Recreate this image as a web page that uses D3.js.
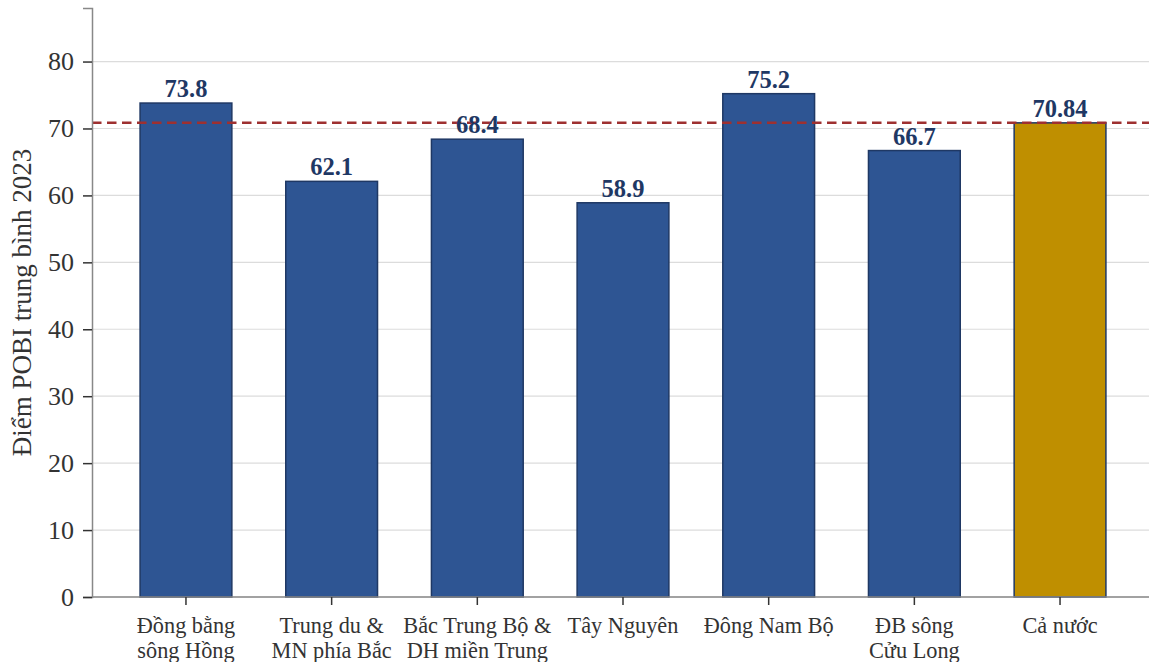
<!DOCTYPE html>
<html>
<head>
<meta charset="utf-8">
<script src="https://cdn.jsdelivr.net/npm/d3@7"></script>
<style>
  html, body { margin: 0; padding: 0; background: #fff; }
  svg { display: block; font-family: "Liberation Serif", "Times New Roman", serif; }
</style>
</head>
<body>
<svg id="chart" width="1149" height="662"></svg>
<script>
// Regions and their mean POBI score (2023); the last entry is the national average
const regions = [
  ["Đồng bằng", "sông Hồng"],
  ["Trung du &", "MN phía Bắc"],
  ["Bắc Trung Bộ &", "DH miền Trung"],
  ["Tây Nguyên"],
  ["Đông Nam Bộ"],
  ["ĐB sông", "Cửu Long"],
  ["Cả nước"]
];
const scores = [73.8, 62.1, 68.4, 58.9, 75.2, 66.7, 70.84];
const valueLabels = ["73.8", "62.1", "68.4", "58.9", "75.2", "66.7", "70.84"];
const nationalAverage = 70.84;
const yTicks = [0, 10, 20, 30, 40, 50, 60, 70, 80];
const yTitle = "Điểm POBI trung bình 2023";

const svg = d3.select("#chart");
const plotLeft = 92, plotRight = 1154, plotTop = 8, plotBottom = 597;

const x = d3.scaleBand()
  .domain(d3.range(scores.length))
  .range([plotLeft, plotRight])
  .paddingInner(0.37)
  .paddingOuter(0.33);

const y = d3.scaleLinear().domain([0, 88]).range([plotBottom, plotTop]);

// horizontal grid
svg.append("g")
  .selectAll("line")
  .data(yTicks)
  .join("line")
  .attr("x1", plotLeft).attr("x2", 1149)
  .attr("y1", d => y(d)).attr("y2", d => y(d))
  .attr("stroke", "#dcdcdc").attr("stroke-width", 1.2);

// bars
svg.append("g")
  .selectAll("rect")
  .data(scores)
  .join("rect")
  .attr("x", (d, i) => x(i))
  .attr("width", x.bandwidth())
  .attr("y", d => y(d))
  .attr("height", d => y(0) - y(d))
  .attr("fill", (d, i) => i === scores.length - 1 ? "#bf8f00" : "#2e5593")
  .attr("stroke", "#1f3864")
  .attr("stroke-width", 1.5);

// national average reference line
svg.append("line")
  .attr("x1", plotLeft).attr("x2", 1149)
  .attr("y1", y(nationalAverage)).attr("y2", y(nationalAverage))
  .attr("stroke", "#9e3030")
  .attr("stroke-width", 2.5)
  .attr("stroke-dasharray", "9.5,5.5");

// value labels
svg.append("g")
  .selectAll("text")
  .data(scores)
  .join("text")
  .attr("x", (d, i) => x(i) + x.bandwidth() / 2)
  .attr("y", d => y(d) - 6)
  .attr("text-anchor", "middle")
  .attr("font-size", 24.5)
  .attr("font-weight", "bold")
  .attr("fill", "#1f3864")
  .text((d, i) => valueLabels[i]);

// y axis
const yAxis = svg.append("g")
  .attr("transform", `translate(${plotLeft},0)`)
  .call(d3.axisLeft(y).tickValues(yTicks).tickSize(9).tickPadding(9));
yAxis.select(".domain").attr("stroke", "#888").attr("stroke-width", 1.5);
yAxis.selectAll(".tick line").attr("stroke", "#333").attr("stroke-width", 1.5);
yAxis.selectAll(".tick text")
  .attr("font-family", "Liberation Serif, serif")
  .attr("font-size", 26).attr("fill", "#333");

// x axis
const xAxis = svg.append("g")
  .attr("transform", `translate(0,${plotBottom})`)
  .call(d3.axisBottom(x).tickSize(8).tickFormat(""));
xAxis.select(".domain").attr("stroke", "#888").attr("stroke-width", 1.5)
  .attr("d", `M${plotLeft},0H1149`);
xAxis.selectAll(".tick line").attr("stroke", "#333").attr("stroke-width", 1.5);

// multi-line category labels
svg.append("g")
  .selectAll("text")
  .data(regions)
  .join("text")
  .attr("text-anchor", "middle")
  .attr("font-size", 22.3)
  .attr("fill", "#333")
  .attr("transform", (d, i) => `translate(${x(i) + x.bandwidth() / 2},${plotBottom + 36})`)
  .selectAll("tspan")
  .data(d => d)
  .join("tspan")
  .attr("x", 0)
  .attr("dy", (d, j) => j === 0 ? 0 : 24.5)
  .text(d => d);

// y title
svg.append("text")
  .attr("transform", `translate(31,${(plotTop + plotBottom) / 2}) rotate(-90)`)
  .attr("text-anchor", "middle")
  .attr("font-size", 27)
  .attr("fill", "#333")
  .text(yTitle);
</script>
</body>
</html>
